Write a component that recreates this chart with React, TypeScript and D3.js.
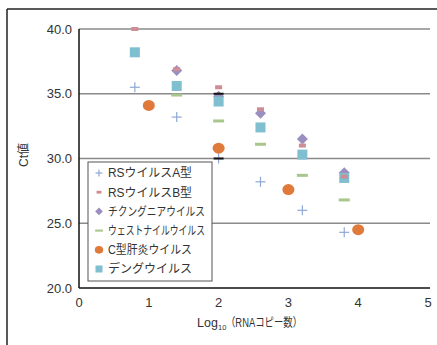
import * as d3 from 'd3'

// RNA copy numbers (log10) and Ct values
const rsA = [[0.8, 35.5], [1.4, 33.2], [2.0, 30.0], [2.6, 28.2], [3.2, 26.0], [3.8, 24.3]]
const rsB = [[0.8, 40.0], [1.4, 36.9], [2.0, 35.5], [2.6, 33.8], [3.2, 31.0], [3.8, 28.6]]
const chikungunya = [[1.4, 36.8], [2.0, 34.8], [2.6, 33.5], [3.2, 31.5], [3.8, 28.9]]
const westNile = [[1.4, 34.9], [2.0, 32.9], [2.6, 31.1], [3.2, 28.7], [3.8, 26.8]]
const hepC = [[1.0, 34.1], [2.0, 30.8], [3.0, 27.6], [4.0, 24.5]]
const dengue = [[0.8, 38.2], [1.4, 35.6], [2.0, 34.4], [2.6, 32.4], [3.2, 30.3], [3.8, 28.5]]
const blackMarks = [[2.0, 35.0], [2.0, 30.0]]

const xTicks = [0, 1, 2, 3, 4, 5]
const yTicks = [20, 25, 30, 35, 40]
const legendLabels = ['RSウイルスA型', 'RSウイルスB型', 'チクングニアウイルス', 'ウェストナイルウイルス', 'C型肝炎ウイルス', 'デングウイルス']

const colors = {
  rsA: '#8fa8d6',
  rsB: '#cf8c95',
  chik: '#9a8fc0',
  wn: '#a9c68c',
  hepC: '#e07a3a',
  dengue: '#7fbfcf',
}

const font = '"Liberation Sans", "Noto Sans CJK JP", sans-serif'

function Marker({ kind, x, y, s = 1 }: { kind: string; x: number; y: number; s?: number }) {
  switch (kind) {
    case 'rsA':
      return (
        <g stroke={colors.rsA} strokeWidth={1.2}>
          <line x1={x - 5 * s} x2={x + 5 * s} y1={y} y2={y} />
          <line x1={x} x2={x} y1={y - 5 * s} y2={y + 5 * s} />
        </g>
      )
    case 'rsB':
      return <rect x={x - 3.5 * s} y={y - 2 * s} width={7 * s} height={4 * s} fill={colors.rsB} />
    case 'chik':
      return <path d={`M${x},${y - 5.5 * s}L${x + 5.5 * s},${y}L${x},${y + 5.5 * s}L${x - 5.5 * s},${y}Z`} fill={colors.chik} />
    case 'wn':
      return <rect x={x - 5.5 * s} y={y - 1.5 * s} width={11 * s} height={3 * s} fill={colors.wn} />
    case 'hepC':
      return <ellipse cx={x} cy={y} rx={6 * s} ry={5.5 * s} fill={colors.hepC} />
    default:
      return <rect x={x - 5 * s} y={y - 5 * s} width={10 * s} height={10 * s} fill={colors.dengue} />
  }
}

export default function App() {
  const width = 437
  const height = 345
  const x = d3.scaleLinear().domain([0, 5]).range([79, 428])
  const y = d3.scaleLinear().domain([20, 40]).range([288, 29])

  const series: [string, number[][]][] = [
    ['chik', chikungunya],
    ['dengue', dengue],
    ['rsB', rsB],
    ['wn', westNile],
    ['rsA', rsA],
    ['hepC', hepC],
  ]
  const legendKinds = ['rsA', 'rsB', 'chik', 'wn', 'hepC', 'dengue']

  return (
    <svg width={width} height={height} style={{ position: 'absolute', left: 0, top: 0, background: '#fff' }} fontFamily={font}>
      {/* outer frame */}
      <line x1={7} x2={437} y1={9} y2={9} stroke="#222" strokeWidth={1.5} />
      <line x1={7} x2={7} y1={9} y2={345} stroke="#222" strokeWidth={1.5} />

      {/* grid */}
      {yTicks.filter(t => t > 20).map(t => (
        <line key={t} x1={x(0)} x2={430} y1={y(t)} y2={y(t)} stroke="#8a8a8a" strokeWidth={1.5} />
      ))}

      {/* axes */}
      <line x1={x(0)} x2={x(0)} y1={y(40)} y2={y(20)} stroke="#111" strokeWidth={1.5} />
      <line x1={x(0)} x2={430} y1={y(20)} y2={y(20)} stroke="#111" strokeWidth={1.5} />

      {yTicks.map(t => (
        <text key={t} x={72} y={y(t)} dy="0.36em" textAnchor="end" fontSize={13} fill="#333">
          {t.toFixed(1)}
        </text>
      ))}
      {xTicks.map(t => (
        <text key={t} x={x(t)} y={307} textAnchor="middle" fontSize={13} fill="#333">
          {t}
        </text>
      ))}

      <text x={197} y={327} fontSize={12.5} fill="#333">Log</text>
      <text x={218} y={330} fontSize={7.5} fill="#333">10</text>
      <text x={226} y={327} fontSize={12} fill="#333" textLength={76} lengthAdjust="spacingAndGlyphs">
        （RNAコピー数）
      </text>
      <text transform="translate(28,155) rotate(-90)" textAnchor="middle" fontSize={12} fill="#333">
        Ct値
      </text>

      {/* data */}
      {series.map(([kind, pts]) =>
        pts.map((p, i) => <Marker key={kind + i} kind={kind} x={x(p[0])} y={y(p[1])} />)
      )}
      {blackMarks.map((p, i) => (
        <rect key={'b' + i} x={x(p[0]) - 5} y={y(p[1]) - 1} width={10} height={2} fill="#111" />
      ))}

      {/* legend */}
      <rect x={88} y={162} width={124} height={119} fill="#fff" stroke="#555" strokeWidth={1} />
      {legendLabels.map((label, i) => {
        const cy = 173 + i * 19.2
        return (
          <g key={label}>
            <Marker kind={legendKinds[i]} x={99} y={cy} s={0.7} />
            <text
              x={108}
              y={cy}
              dy="0.36em"
              fontSize={12}
              fill="#333"
              textLength={label.length > 8 ? 97 : label.length === 8 ? 84 : undefined}
              lengthAdjust="spacingAndGlyphs"
            >
              {label}
            </text>
          </g>
        )
      })}
    </svg>
  )
}
